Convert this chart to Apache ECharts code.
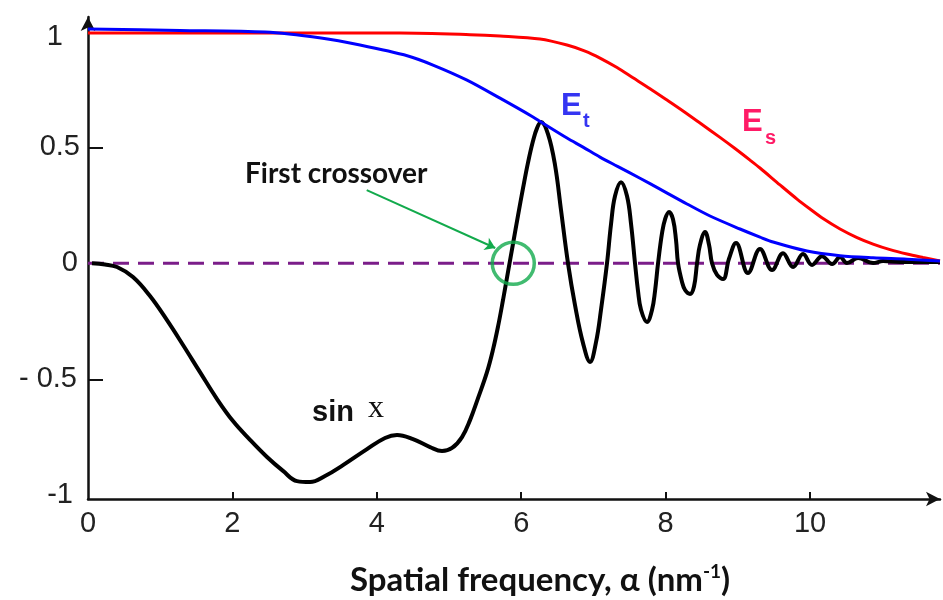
<!DOCTYPE html>
<html>
<head>
<meta charset="utf-8">
<script src="https://cdn.jsdelivr.net/npm/echarts@6/dist/echarts.min.js"></script>
<style>
  html, body { margin: 0; padding: 0; background: #fff; }
  #chart { width: 943px; height: 600px; }
</style>
</head>
<body>
<div id="chart"></div>
<script>
// values, x = spatial frequency, y = amplitude
const esPoints = [
  [0, 0.993], [2.936, 0.993], [4.321, 0.993], [5.291, 0.986], [5.706, 0.98],
  [6.26, 0.967], [6.634, 0.941], [6.884, 0.915], [7.091, 0.885], [7.327, 0.844],
  [7.548, 0.8], [7.784, 0.753], [8.019, 0.704], [8.241, 0.657], [8.476, 0.605],
  [8.753, 0.543], [8.961, 0.495], [9.169, 0.445], [9.307, 0.411], [9.584, 0.338],
  [9.82, 0.277], [10.0, 0.234], [10.18, 0.193], [10.416, 0.148], [10.651, 0.111],
  [10.873, 0.083], [11.108, 0.059], [11.343, 0.04], [11.565, 0.025], [11.8, 0.01]
];

const etPoints = [
  [0, 1.01], [1.274, 1.004], [2.452, 0.997], [3.227, 0.971], [3.767, 0.941],
  [4.432, 0.894], [4.778, 0.855], [5.249, 0.79], [5.706, 0.712], [6.163, 0.631],
  [6.274, 0.609], [6.634, 0.54], [6.856, 0.501], [7.091, 0.458], [7.327, 0.419],
  [7.645, 0.367], [7.922, 0.32], [8.296, 0.256], [8.615, 0.204], [9.03, 0.148],
  [9.307, 0.113], [9.488, 0.092], [9.958, 0.053], [10.416, 0.033], [10.873, 0.024],
  [11.343, 0.018], [11.8, 0.01]
];

const sinPoints = [
  [0.055, 0], [0.235, -0.005], [0.402, -0.016], [0.623, -0.059], [0.859, -0.141],
  [1.094, -0.245], [1.316, -0.352], [1.551, -0.469], [1.787, -0.585], [2.008, -0.68],
  [2.244, -0.761], [2.479, -0.835], [2.701, -0.895], [2.895, -0.939], [3.075, -0.943],
  [3.283, -0.917], [3.532, -0.87], [3.864, -0.801], [4.114, -0.753], [4.28, -0.74],
  [4.501, -0.758], [4.737, -0.792], [4.903, -0.809], [5.042, -0.796], [5.18, -0.749],
  [5.291, -0.676], [5.402, -0.581], [5.526, -0.469], [5.609, -0.372], [5.679, -0.272],
  [5.748, -0.158], [5.817, -0.037], [5.886, 0.084], [5.956, 0.207], [6.025, 0.324],
  [6.094, 0.434], [6.163, 0.527], [6.219, 0.583], [6.274, 0.609], [6.371, 0.557],
  [6.468, 0.424], [6.551, 0.23], [6.648, 0], [6.745, -0.18], [6.856, -0.344],
  [6.953, -0.425], [7.036, -0.34], [7.105, -0.2], [7.188, 0], [7.244, 0.17],
  [7.299, 0.29], [7.382, 0.35], [7.465, 0.29], [7.521, 0.17], [7.576, 0],
  [7.618, -0.12], [7.659, -0.2], [7.742, -0.253], [7.812, -0.2], [7.853, -0.12],
  [7.895, 0], [7.95, 0.13], [7.992, 0.19], [8.047, 0.221], [8.102, 0.19],
  [8.144, 0.1], [8.172, 0], [8.227, -0.08], [8.269, -0.115], [8.338, -0.132],
  [8.393, -0.1], [8.435, 0], [8.476, 0.08], [8.546, 0.135], [8.601, 0.08],
  [8.643, 0], [8.712, -0.05], [8.795, -0.068], [8.878, 0.02], [8.975, 0.088],
  [9.141, -0.042], [9.307, 0.062], [9.474, -0.029], [9.626, 0.044], [9.765, -0.016],
  [9.903, 0.04], [10.028, -0.007], [10.166, 0.031], [10.305, -0.003], [10.416, 0.027],
  [10.512, 0.001], [10.665, 0.023], [10.873, 0.001], [11.011, 0.01], [11.247, 0.006],
  [11.8, 0.006]
];

const zeroLine = [[0, 0], [11.8, 0]];
const crossover = [[5.89, 0]];
const arrowFrom = [3.86, 0.316];
const arrowTo = [5.64, 0.066];

const xLabelValues = [0, 2, 4, 6, 8, 10];
const xTickValues = [2, 4, 6, 8, 10];
const yLabelValues = [1, 0.5, 0, -0.5, -1];
const yLabelText = ["1", "0.5", "0", "- 0.5", "-1"];
const yLabelStyle = ["one", "half", "zero", "mhalf", "mone"];
const yTickValues = [0.5, -0.5];

const chart = echarts.init(document.getElementById("chart"));

const axisFont = "Liberation Sans";

chart.setOption({
  animation: false,
  backgroundColor: "#fff",
  grid: { left: 88, right: 3, top: 17, bottom: 101 },
  xAxis: {
    type: "value",
    min: 0,
    max: 11.8,
    axisLine: {
      show: true,
      onZero: false,
      symbol: ["none", "arrow"],
      symbolSize: [11, 14],
      lineStyle: { color: "#111", width: 2.5 }
    },
    axisTick: {
      show: true,
      inside: true,
      length: 7,
      customValues: xTickValues,
      lineStyle: { color: "#111", width: 2 }
    },
    axisLabel: {
      customValues: xLabelValues,
      fontFamily: axisFont,
      fontSize: 29,
      color: "#222",
      margin: 10
    },
    splitLine: { show: false }
  },
  yAxis: {
    type: "value",
    min: -1.016,
    max: 1.062,
    axisLine: {
      show: true,
      onZero: false,
      symbol: ["none", "arrow"],
      symbolSize: [11, 14],
      lineStyle: { color: "#111", width: 2.5 }
    },
    axisTick: {
      show: true,
      inside: true,
      length: 15,
      customValues: yTickValues,
      lineStyle: { color: "#111", width: 2 }
    },
    axisLabel: {
      customValues: yLabelValues,
      fontFamily: axisFont,
      fontSize: 29,
      color: "#222",
      margin: 8,
      formatter: (value) => {
        const i = yLabelValues.findIndex(v => Math.abs(v - value) < 1e-6);
        if (i < 0) return "";
        return "{" + yLabelStyle[i] + "|" + yLabelText[i] + "}";
      },
      rich: {
        one: { fontFamily: axisFont, fontSize: 29, color: "#222", padding: [12, 17, 0, 0] },
        half: { fontFamily: axisFont, fontSize: 29, color: "#222" },
        zero: { fontFamily: axisFont, fontSize: 29, color: "#222", padding: [0, 2, 0, 0] },
        mhalf: { fontFamily: axisFont, fontSize: 29, color: "#222", padding: [0, 3, 0, 0] },
        mone: { fontFamily: axisFont, fontSize: 29, color: "#222", padding: [0, 7, 0, 0] }
      }
    },
    splitLine: { show: false }
  },
  series: [
    {
      name: "zero",
      type: "line",
      data: zeroLine,
      symbol: "none",
      silent: true,
      z: 2,
      lineStyle: { color: "#7b1d89", width: 3, type: [16, 9] }
    },
    {
      name: "sin x",
      type: "line",
      data: sinPoints,
      symbol: "none",
      smooth: 0.4,
      z: 3,
      lineStyle: { color: "#000", width: 4 }
    },
    {
      name: "Es",
      type: "line",
      data: esPoints,
      symbol: "none",
      smooth: 0.3,
      z: 4,
      lineStyle: { color: "#ff0000", width: 3 }
    },
    {
      name: "Et",
      type: "line",
      data: etPoints,
      symbol: "none",
      smooth: 0.3,
      z: 5,
      lineStyle: { color: "#0000ff", width: 3 }
    },
    {
      name: "First crossover",
      type: "scatter",
      data: crossover,
      symbol: "circle",
      symbolSize: 42,
      z: 6,
      itemStyle: { color: "rgba(0,0,0,0)", borderColor: "#12aa4c", borderWidth: 3.5 },
      markLine: {
        silent: true,
        symbol: ["none", "arrow"],
        symbolSize: 10,
        label: { show: false },
        lineStyle: { color: "#12aa4c", width: 2, type: "solid" },
        data: [[{ coord: arrowFrom }, { coord: arrowTo }]]
      }
    }
  ],
  graphic: [
    {
      type: "text", x: 561, y: 106, z: 10,
      style: { text: "E", font: "bold 31px Liberation Sans", fill: "#3535f2", textAlign: "left", textVerticalAlign: "middle", align: "left", verticalAlign: "middle" }
    },
    {
      type: "text", x: 583, y: 121, z: 10,
      style: { text: "t", font: "bold 20px Liberation Sans", fill: "#3535f2", textAlign: "left", textVerticalAlign: "middle", align: "left", verticalAlign: "middle" }
    },
    {
      type: "text", x: 742, y: 122, z: 10,
      style: { text: "E", font: "bold 31px Liberation Sans", fill: "#ff1a66", textAlign: "left", textVerticalAlign: "middle", align: "left", verticalAlign: "middle" }
    },
    {
      type: "text", x: 765, y: 138, z: 10,
      style: { text: "s", font: "bold 20px Liberation Sans", fill: "#ff1a66", textAlign: "left", textVerticalAlign: "middle", align: "left", verticalAlign: "middle" }
    },
    {
      type: "text", x: 245, y: 174, z: 10,
      style: { text: "First crossover", font: "bold 28px Lato", fill: "#111", textAlign: "left", textVerticalAlign: "middle", align: "left", verticalAlign: "middle" }
    },
    {
      type: "text", x: 312, y: 413, z: 10,
      style: { text: "sin", font: "bold 29px Liberation Sans", fill: "#111", textAlign: "left", textVerticalAlign: "middle", align: "left", verticalAlign: "middle" }
    },
    {
      type: "text", x: 368, y: 409, z: 10,
      style: { text: "x", font: "32px Liberation Serif", fill: "#111", textAlign: "left", textVerticalAlign: "middle", align: "left", verticalAlign: "middle" }
    },
    {
      type: "text", x: 540, y: 580, z: 10,
      style: {
        text: "{a|Spatial frequency, \u03b1 (nm}{s|-1}{a|)}",
        textAlign: "center", textVerticalAlign: "middle", align: "center", verticalAlign: "middle",
        rich: {
          a: { font: "bold 33px Lato", fill: "#111", color: "#111" },
          s: { font: "bold 19px Lato", fill: "#111", color: "#111", padding: [0, 0, 16, 0] }
        }
      }
    }
  ]
});

window.addEventListener("resize", () => {
  chart.resize();
});
</script>
</body>
</html>
